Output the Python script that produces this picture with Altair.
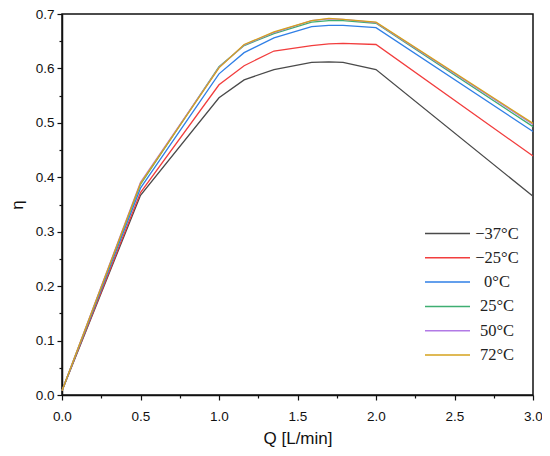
import altair as alt
import pandas as pd

q = [0.0, 0.5, 1.0, 1.16, 1.35, 1.59, 1.70, 1.79, 2.0, 3.0]
labels = ["−37°C", "−25°C", "0°C", "25°C", "50°C", "72°C"]
colors = ["#4a4a4a", "#f23d3d", "#2f7fe6", "#3fae72", "#b27ae6", "#d4a21c"]
eta_m37 = [0.008, 0.367, 0.546, 0.579, 0.598, 0.611, 0.612, 0.611, 0.598, 0.365]
eta_m25 = [0.008, 0.372, 0.570, 0.605, 0.632, 0.642, 0.645, 0.646, 0.644, 0.439]
eta_0 = [0.008, 0.380, 0.590, 0.629, 0.656, 0.677, 0.679, 0.679, 0.675, 0.484]
eta_25 = [0.008, 0.387, 0.603, 0.642, 0.664, 0.685, 0.688, 0.688, 0.683, 0.493]
eta_50 = [0.008, 0.391, 0.602, 0.643, 0.666, 0.688, 0.691, 0.690, 0.684, 0.497]
eta_72 = [0.008, 0.389, 0.601, 0.644, 0.667, 0.688, 0.692, 0.690, 0.685, 0.499]
series = [eta_m37, eta_m25, eta_0, eta_25, eta_50, eta_72]

x_major = [0, 0.5, 1.0, 1.5, 2.0, 2.5, 3.0]
x_minor = [0.25, 0.75, 1.25, 1.75, 2.25, 2.75]
y_major = [0.0, 0.1, 0.2, 0.3, 0.4, 0.5, 0.6, 0.7]
y_minor = [0.05, 0.15, 0.25, 0.35, 0.45, 0.55, 0.65]

rows = []
for lab, vals in zip(labels, series):
    for i, (xv, yv) in enumerate(zip(q, vals)):
        rows.append({"Q": xv, "eta": yv, "T": lab, "order": i})
df = pd.DataFrame(rows)

xscale = alt.Scale(domain=[0, 3], nice=False, zero=False)
yscale = alt.Scale(domain=[0, 0.7], nice=False, zero=False)

lines = alt.Chart(df).mark_line(strokeWidth=1.3).encode(
    x=alt.X("Q:Q", scale=xscale,
            axis=alt.Axis(orient="bottom", values=x_major, format=".1f",
                          title="Q [L/min]", tickSize=5, labelPadding=9,
                          titlePadding=8, labelFlush=False)),
    y=alt.Y("eta:Q", scale=yscale,
            axis=alt.Axis(orient="left", values=y_major, format=".1f",
                          title="η", tickSize=5, labelPadding=3,
                          titlePadding=9, labelFlush=False)),
    color=alt.Color("T:N", scale=alt.Scale(domain=labels, range=colors),
                    legend=alt.Legend(title=None, orient="none", legendX=377,
                                      legendY=211, symbolType="M-3,0H3",
                                      symbolSize=225, symbolStrokeWidth=1.5,
                                      labelFont="Liberation Serif",
                                      labelFontSize=16.5, labelColor="#222",
                                      labelAlign="center",
                                      labelOffset=41, rowPadding=7.3)),
    order="order:O",
)

minor = alt.Chart(df).mark_point(opacity=0).encode(
    x=alt.X("Q:Q", scale=xscale,
            axis=alt.Axis(orient="bottom", values=x_minor, labels=False,
                          title=None, tickSize=3, domain=False, grid=False)),
    y=alt.Y("eta:Q", scale=yscale,
            axis=alt.Axis(orient="left", values=y_minor, labels=False,
                          title=None, tickSize=3, domain=False, grid=False)),
)

chart = alt.layer(lines, minor).resolve_axis(x="independent", y="independent").properties(
    width=471, height=381,
    autosize=alt.AutoSizeParams(type="none"),
    padding={"left": 54, "top": 6, "right": 9, "bottom": 53},
).configure_view(stroke="#111", strokeWidth=1.5).configure_axis(
    grid=False, domainColor="#111", domainWidth=1.5, tickColor="#111",
    tickWidth=1.2, labelFont="Liberation Sans", labelFontSize=13.5,
    labelColor="#111", titleFont="Liberation Sans", titleFontSize=17,
    titleFontWeight="normal", titleColor="#111",
)

chart.save("out.html", embed_options={"renderer": "svg", "actions": False})
